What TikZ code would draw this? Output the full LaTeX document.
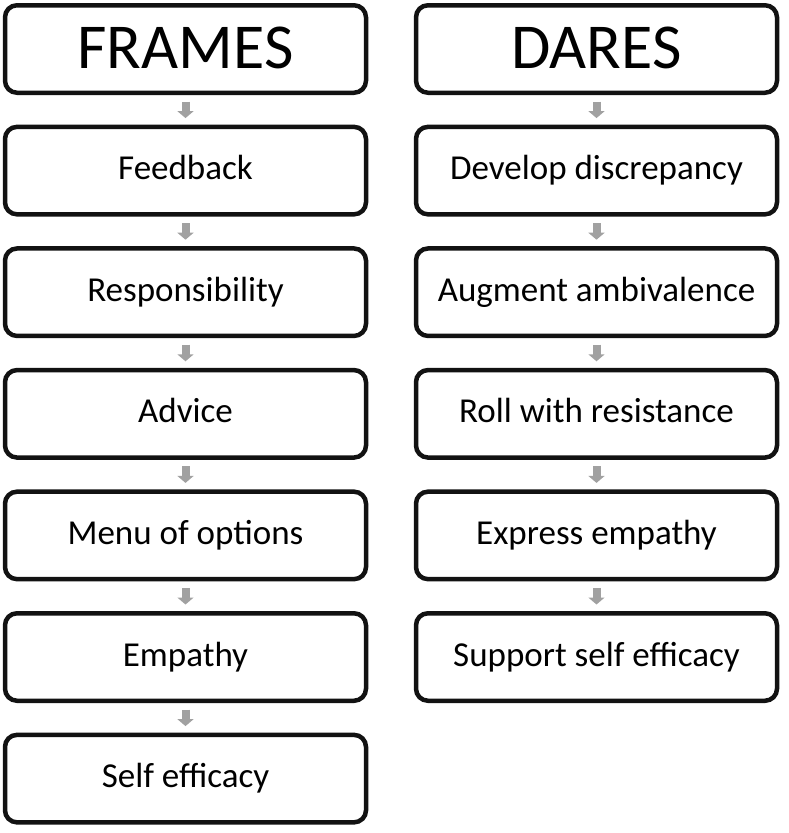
\documentclass[tikz,border=0pt]{standalone}
\usepackage{fontspec}
\setmainfont{Carlito}
\usetikzlibrary{positioning,arrows.meta}

\tikzset{
  stepbox/.style={draw=black!93, line width=4.5pt, rounded corners=12pt,
                  minimum width=361pt, minimum height=87.5pt,
                  text height=24pt, text depth=6pt,
                  font=\fontsize{35}{40}\selectfont},
  headbox/.style={stepbox, text height=50pt, text depth=11.4pt,
                  font=\fontsize{64}{70}\selectfont},
  flow/.style={draw=black!37, line width=8pt,
               -{Triangle[length=7pt,width=16pt]},
               shorten <=6.5pt, shorten >=6.5pt}
}

\begin{document}
\begin{tikzpicture}[node distance=29.6pt]
\useasboundingbox (0,0) rectangle (788pt,-833pt);

\node[headbox] (frames) at (185.5pt,-49pt) {FRAMES};
\node[stepbox, below=of frames]   (feedback) {Feedback};
\node[stepbox, below=of feedback] (respons)  {Responsibility};
\node[stepbox, below=of respons]  (advice)   {Advice};
\node[stepbox, below=of advice]   (menu)     {Menu of options};
\node[stepbox, below=of menu]     (empathy)  {Empathy};
\node[stepbox, below=of empathy]  (selfeff)  {Self efficacy};

\node[headbox] (dares) at (596.5pt,-49pt) {DARES};
\node[stepbox, below=of dares]    (discrep)  {Develop discrepancy};
\node[stepbox, below=of discrep]  (ambival)  {Augment ambivalence};
\node[stepbox, below=of ambival]  (resist)   {Roll with resistance};
\node[stepbox, below=of resist]   (express)  {Express empathy};
\node[stepbox, below=of express]  (support)  {Support self efficacy};

\draw[flow] (frames) -- (feedback);
\draw[flow] (feedback) -- (respons);
\draw[flow] (respons) -- (advice);
\draw[flow] (advice) -- (menu);
\draw[flow] (menu) -- (empathy);
\draw[flow] (empathy) -- (selfeff);

\draw[flow] (dares) -- (discrep);
\draw[flow] (discrep) -- (ambival);
\draw[flow] (ambival) -- (resist);
\draw[flow] (resist) -- (express);
\draw[flow] (express) -- (support);
\end{tikzpicture}
\end{document}
